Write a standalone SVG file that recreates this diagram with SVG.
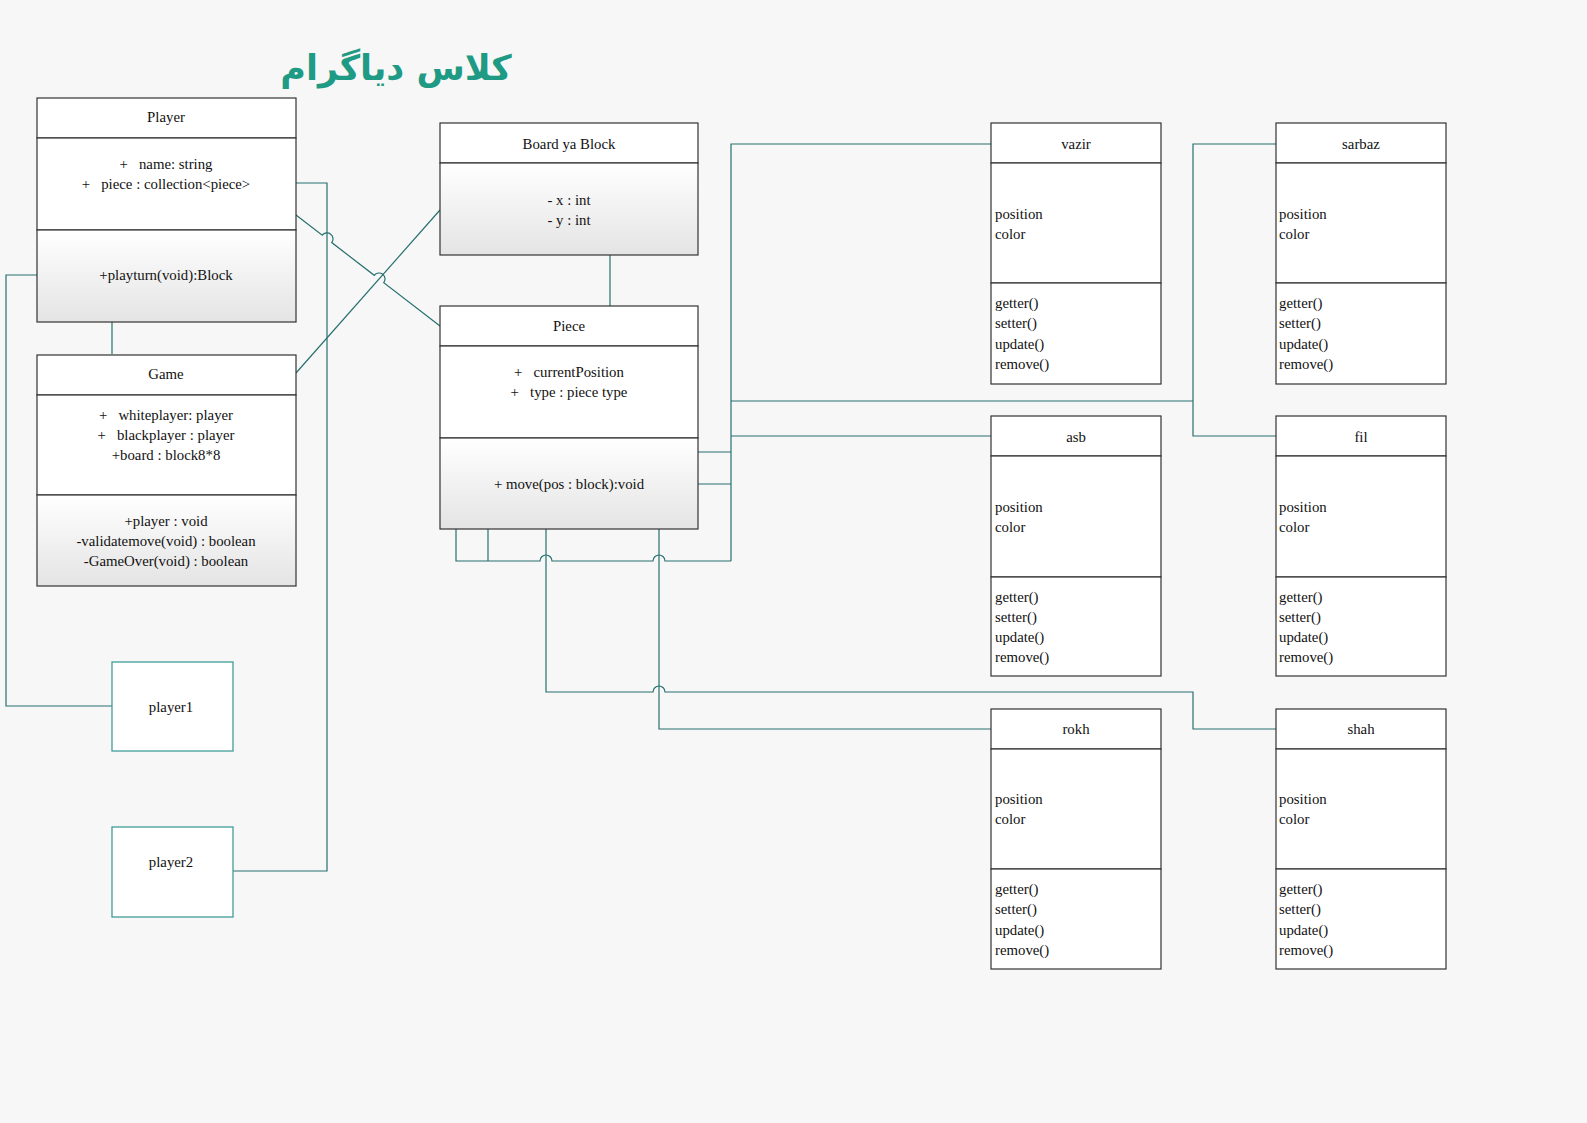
<svg xmlns="http://www.w3.org/2000/svg" width="1587" height="1123" viewBox="0 0 1587 1123" xml:space="preserve">
<defs>
<linearGradient id="g" x1="0" y1="0" x2="0" y2="1"><stop offset="0" stop-color="#ffffff"/><stop offset="1" stop-color="#e4e4e4"/></linearGradient>
<style>
.b{fill:#fff;stroke:#333;stroke-width:1.2}
.gr{fill:url(#g);stroke:#333;stroke-width:1.2}
.t{font-family:"Liberation Serif","DejaVu Serif",serif;font-size:14.8px;fill:#111;white-space:pre}
.c{text-anchor:middle}
.w{fill:none;stroke:#26716f;stroke-width:1.2}
.o{fill:#fff;stroke:#3f9d9a;stroke-width:1.3}
</style>
</defs>
<rect x="0" y="0" width="1587" height="1123" fill="#f7f7f7"/>
<text x="396" y="80" text-anchor="middle" font-family="'DejaVu Sans',sans-serif" font-weight="bold" font-size="35" fill="#1f9a84">کلاس دیاگرام</text>

<g id="connectors" class="w">
<path d="M296,183 H327 V871 H233"/>
<path d="M37,275 H6 V706 H112"/>
<path d="M112,322 V354"/>
<path d="M296,215 L322.25,235.2 A6 6 0 0 1 331.75,242.6 L374.25,275.3 A6 6 0 0 1 383.75,282.7 L440,326"/>
<path d="M296,373 L440,210"/>
<path d="M610,255 V306"/>
<path d="M991,144 H731 V561"/>
<path d="M731,401 H1193"/>
<path d="M731,436 H991"/>
<path d="M698,452 H731"/>
<path d="M698,484 H731"/>
<path d="M456,529 V561 H540 A6 6 0 0 1 552,561 H653 A6 6 0 0 1 665,561 H731"/>
<path d="M488,529 V561"/>
<path d="M546,529 V692 H653 A6 6 0 0 1 665,692 H1193 V729 H1276"/>
<path d="M659,529 V729 H991"/>
<path d="M1276,144 H1193 V436 H1276"/>
</g>

<g id="player">
<rect class="b" x="37" y="98" width="259" height="40"/>
<rect class="b" x="37" y="138" width="259" height="92"/>
<rect class="gr" x="37" y="230" width="259" height="92"/>
<text class="t c" x="166" y="122">Player</text>
<text class="t c" x="166" y="169">+   name: string</text>
<text class="t c" x="166" y="189">+   piece : collection&lt;piece&gt;</text>
<text class="t c" x="166" y="280">+playturn(void):Block</text>
</g>

<g id="game">
<rect class="b" x="37" y="355" width="259" height="40"/>
<rect class="b" x="37" y="395" width="259" height="100"/>
<rect class="gr" x="37" y="495" width="259" height="91"/>
<text class="t c" x="166" y="379">Game</text>
<text class="t c" x="166" y="420">+   whiteplayer: player</text>
<text class="t c" x="166" y="440">+   blackplayer : player</text>
<text class="t c" x="166" y="460">+board : block8*8</text>
<text class="t c" x="166" y="526">+player : void</text>
<text class="t c" x="166" y="546">-validatemove(void) : boolean</text>
<text class="t c" x="166" y="566">-GameOver(void) : boolean</text>
</g>

<g id="board">
<rect class="b" x="440" y="123" width="258" height="40"/>
<rect class="gr" x="440" y="163" width="258" height="92"/>
<text class="t c" x="569" y="149">Board ya Block</text>
<text class="t c" x="569" y="205">- x : int</text>
<text class="t c" x="569" y="225">- y : int</text>
</g>

<g id="piece">
<rect class="b" x="440" y="306" width="258" height="40"/>
<rect class="b" x="440" y="346" width="258" height="92"/>
<rect class="gr" x="440" y="438" width="258" height="91"/>
<text class="t c" x="569" y="331">Piece</text>
<text class="t c" x="569" y="377">+   currentPosition</text>
<text class="t c" x="569" y="397">+   type : piece type</text>
<text class="t c" x="569" y="489">+ move(pos : block):void</text>
</g>

<g id="vazir">
<rect class="b" x="991" y="123" width="170" height="40"/>
<rect class="b" x="991" y="163" width="170" height="120"/>
<rect class="b" x="991" y="283" width="170" height="101"/>
<text class="t c" x="1076" y="149">vazir</text>
<text class="t" x="995" y="219">position</text>
<text class="t" x="995" y="239">color</text>
<text class="t" x="995" y="308">getter()</text>
<text class="t" x="995" y="328">setter()</text>
<text class="t" x="995" y="349">update()</text>
<text class="t" x="995" y="369">remove()</text>
</g>

<g id="sarbaz">
<rect class="b" x="1276" y="123" width="170" height="40"/>
<rect class="b" x="1276" y="163" width="170" height="120"/>
<rect class="b" x="1276" y="283" width="170" height="101"/>
<text class="t c" x="1361" y="149">sarbaz</text>
<text class="t" x="1279" y="219">position</text>
<text class="t" x="1279" y="239">color</text>
<text class="t" x="1279" y="308">getter()</text>
<text class="t" x="1279" y="328">setter()</text>
<text class="t" x="1279" y="349">update()</text>
<text class="t" x="1279" y="369">remove()</text>
</g>

<g id="asb">
<rect class="b" x="991" y="416" width="170" height="40"/>
<rect class="b" x="991" y="456" width="170" height="121"/>
<rect class="b" x="991" y="577" width="170" height="99"/>
<text class="t c" x="1076" y="442">asb</text>
<text class="t" x="995" y="512">position</text>
<text class="t" x="995" y="532">color</text>
<text class="t" x="995" y="602">getter()</text>
<text class="t" x="995" y="622">setter()</text>
<text class="t" x="995" y="642">update()</text>
<text class="t" x="995" y="662">remove()</text>
</g>

<g id="fil">
<rect class="b" x="1276" y="416" width="170" height="40"/>
<rect class="b" x="1276" y="456" width="170" height="121"/>
<rect class="b" x="1276" y="577" width="170" height="99"/>
<text class="t c" x="1361" y="442">fil</text>
<text class="t" x="1279" y="512">position</text>
<text class="t" x="1279" y="532">color</text>
<text class="t" x="1279" y="602">getter()</text>
<text class="t" x="1279" y="622">setter()</text>
<text class="t" x="1279" y="642">update()</text>
<text class="t" x="1279" y="662">remove()</text>
</g>

<g id="rokh">
<rect class="b" x="991" y="709" width="170" height="40"/>
<rect class="b" x="991" y="749" width="170" height="120"/>
<rect class="b" x="991" y="869" width="170" height="100"/>
<text class="t c" x="1076" y="734">rokh</text>
<text class="t" x="995" y="804">position</text>
<text class="t" x="995" y="824">color</text>
<text class="t" x="995" y="894">getter()</text>
<text class="t" x="995" y="914">setter()</text>
<text class="t" x="995" y="935">update()</text>
<text class="t" x="995" y="955">remove()</text>
</g>

<g id="shah">
<rect class="b" x="1276" y="709" width="170" height="40"/>
<rect class="b" x="1276" y="749" width="170" height="120"/>
<rect class="b" x="1276" y="869" width="170" height="100"/>
<text class="t c" x="1361" y="734">shah</text>
<text class="t" x="1279" y="804">position</text>
<text class="t" x="1279" y="824">color</text>
<text class="t" x="1279" y="894">getter()</text>
<text class="t" x="1279" y="914">setter()</text>
<text class="t" x="1279" y="935">update()</text>
<text class="t" x="1279" y="955">remove()</text>
</g>

<g id="player1">
<rect class="o" x="112" y="662" width="121" height="89"/>
<text class="t c" x="171" y="712">player1</text>
</g>

<g id="player2">
<rect class="o" x="112" y="827" width="121" height="90"/>
<text class="t c" x="171" y="867">player2</text>
</g>
</svg>
